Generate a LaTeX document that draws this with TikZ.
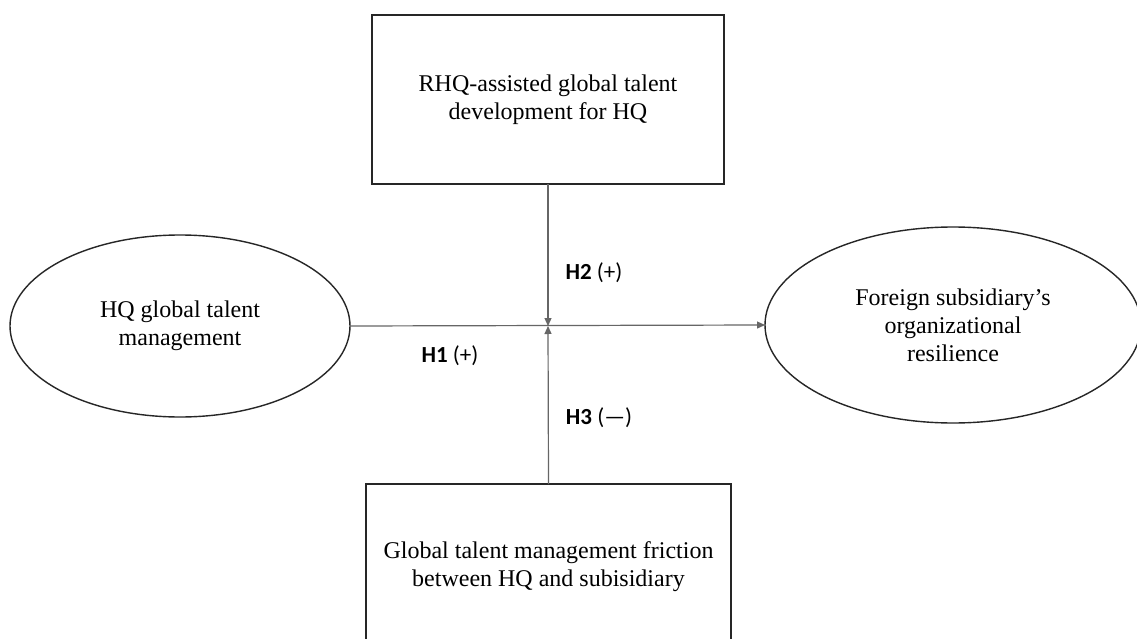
\documentclass[tikz,border=0pt]{standalone}
\usepackage{fontspec}
\setmainfont{Liberation Serif}
\newfontfamily\labfont{Carlito}
\usetikzlibrary{shapes.geometric,arrows.meta}
\begin{document}
\begin{tikzpicture}[x=1pt,y=-1pt,
  boxtext/.style={font=\fontsize{24}{28}\selectfont, align=center},
  varbox/.style={boxtext, draw=black!85, line width=1.4pt, rectangle, inner sep=0pt, outer sep=0pt},
  varell/.style={boxtext, draw=black!85, line width=1.4pt, ellipse, inner sep=0pt, outer sep=0pt},
  conn/.style={draw=black!60, line width=1.2pt},
  tip/.style={-{Triangle[length=8pt,width=7pt]}},
  hyp/.style={font=\labfont\fontsize{23}{27}\selectfont, inner sep=0pt}
]
\useasboundingbox (0,0) rectangle (1137,639);
\fill[white] (0,0) rectangle (1137,639);
\node[varbox, minimum width=352pt, minimum height=169pt] (rhq) at (548,99.5) {RHQ-assisted global talent\\development for HQ};
\node[varbox, minimum width=365pt, minimum height=166pt] (gtm) at (548.5,567) {Global talent management friction\\between HQ and subisidiary};
\node[varell, minimum width=340pt, minimum height=182pt] (hq) at (180,326) {HQ global talent\\management};
\node[varell, minimum width=376pt, minimum height=196pt] (fs) at (953,325) {Foreign subsidiary's\\organizational\\resilience};
\coordinate (m) at (548,326);
\draw[conn, tip] (hq.east) -- (fs.west);
\draw[conn, tip] (rhq.south) -- (m);
\draw[conn, tip] (gtm.north) -- (m);
\node[hyp] (h2) at (594,273) {\textbf{H2} (+)};
\node[hyp] (h1) at (450,356) {\textbf{H1} (+)};
\node[hyp] (h3) at (599,418) {\textbf{H3} (—)};
\end{tikzpicture}
\end{document}
